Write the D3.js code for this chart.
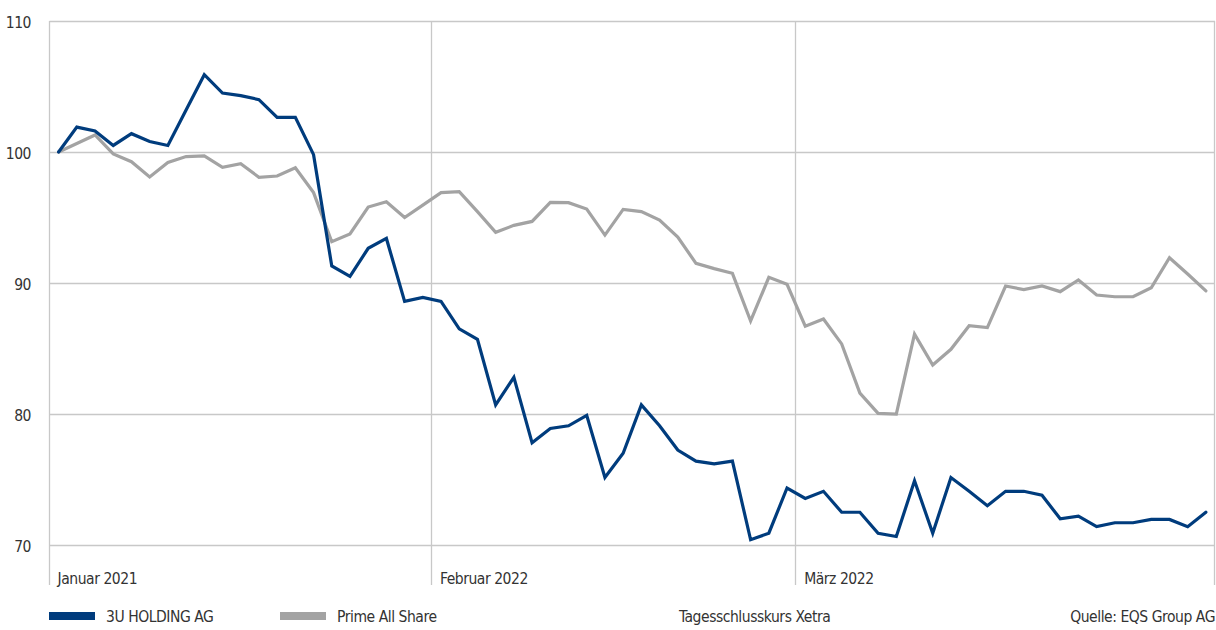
<!DOCTYPE html>
<html>
<head>
<meta charset="utf-8">
<script src="https://cdn.jsdelivr.net/npm/d3@7"></script>
<style>
  html, body { margin: 0; padding: 0; background: #fff; }
  svg text { font-family: "Liberation Sans Narrow", "DejaVu Sans Condensed", "Liberation Sans", sans-serif; fill: #333; letter-spacing: -0.45px; }
</style>
</head>
<body>
<svg id="chart" width="1216" height="630"></svg>
<script>
// Trading days (Jan–Mar 2022)
const days = [
  "03.01","04.01","05.01","06.01","07.01","10.01","11.01","12.01","13.01","14.01",
  "17.01","18.01","19.01","20.01","21.01","24.01","25.01","26.01","27.01","28.01","31.01",
  "01.02","02.02","03.02","04.02","07.02","08.02","09.02","10.02","11.02",
  "14.02","15.02","16.02","17.02","18.02","21.02","22.02","23.02","24.02","25.02","28.02",
  "01.03","02.03","03.03","04.03","07.03","08.03","09.03","10.03","11.03",
  "14.03","15.03","16.03","17.03","18.03","21.03","22.03","23.03","24.03","25.03",
  "28.03","29.03","30.03","31.03"
];

const holding = [
  100.0, 101.9, 101.6, 100.5, 101.4, 100.8, 100.5, 103.2, 105.9, 104.5,
  104.3, 104.0, 102.65, 102.65, 99.8, 91.3, 90.5, 92.65, 93.4, 88.6, 88.9,
  88.6, 86.5, 85.7, 80.7, 82.8, 77.8, 78.9, 79.1, 79.9,
  75.15, 77.0, 80.7, 79.1, 77.25, 76.4, 76.2, 76.4, 70.4, 70.9, 74.35,
  73.55, 74.1, 72.5, 72.5, 70.9, 70.65, 74.9, 70.9, 75.15,
  74.1, 73.0, 74.1, 74.1, 73.8, 72.0, 72.2, 71.4, 71.7, 71.7,
  71.95, 71.95, 71.4, 72.5
];

const primeAllShare = [
  100.0, 100.65, 101.3, 99.85, 99.26, 98.1, 99.2, 99.65, 99.7, 98.83,
  99.1, 98.07, 98.17, 98.8, 96.9, 93.15, 93.75, 95.8, 96.2, 95.0, 95.95,
  96.9, 96.97, 95.45, 93.87, 94.4, 94.7, 96.15, 96.13, 95.65,
  93.66, 95.62, 95.45, 94.8, 93.5, 91.5, 91.1, 90.74, 87.1, 90.43, 89.9,
  86.7, 87.25, 85.35, 81.6, 80.05, 80.0, 86.1, 83.74, 84.94,
  86.74, 86.6, 89.77, 89.5, 89.77, 89.34, 90.23, 89.08, 88.95, 88.95,
  89.64, 91.93, 90.69, 89.4
];

const yTicks = [70, 80, 90, 100, 110];
const monthTicks = [
  { day: "03.01", label: "Januar 2021" },
  { day: "01.02", label: "Februar 2022" },
  { day: "01.03", label: "März 2022" }
];
const seriesNames = ["3U HOLDING AG", "Prime All Share"];
const noteText = "Tagesschlusskurs Xetra";
const sourceText = "Quelle: EQS Group AG";

const colors = { holding: "#003c7d", prime: "#a3a3a3", grid: "#c8c8c8" };
const fs = 15.5;

const svg = d3.select("#chart");
const pLeft = 49.5, pRight = 1215, pTop = 21, pBottom = 545, axisBottom = 585;

const x = d3.scaleBand().domain(days).range([pLeft, pRight]).padding(0);
const y = d3.scaleLinear().domain([70, 110]).range([pBottom, pTop]);

// horizontal grid
svg.append("g").selectAll("line").data(yTicks).join("line")
  .attr("x1", pLeft).attr("x2", pRight)
  .attr("y1", d => Math.round(y(d)) + 0.5).attr("y2", d => Math.round(y(d)) + 0.5)
  .attr("stroke", colors.grid).attr("stroke-width", 1.3);

// vertical lines: month boundaries + right edge
const vx = monthTicks.map(m => x(m.day)).concat([pRight]);
svg.append("g").selectAll("line").data(vx).join("line")
  .attr("x1", d => Math.round(d) - 0.5).attr("x2", d => Math.round(d) - 0.5)
  .attr("y1", pTop).attr("y2", axisBottom)
  .attr("stroke", colors.grid).attr("stroke-width", 1.3);

// y labels
svg.append("g").selectAll("text").data(yTicks).join("text")
  .attr("x", 31).attr("y", d => y(d))
  .attr("dy", "0.42em")
  .attr("text-anchor", "end")
  .attr("font-size", fs)
  .text(d => d);

// month labels
svg.append("g").selectAll("text").data(monthTicks).join("text")
  .attr("x", d => x(d.day) + 8).attr("y", 584)
  .attr("font-size", fs)
  .text(d => d.label);

// lines
const line = d3.line().x((d, i) => x(days[i]) + x.bandwidth() / 2).y(d => y(d));

svg.append("path").datum(primeAllShare)
  .attr("d", line).attr("fill", "none")
  .attr("stroke", colors.prime).attr("stroke-width", 3.2)
  .attr("stroke-linejoin", "miter").attr("stroke-linecap", "round");

svg.append("path").datum(holding)
  .attr("d", line).attr("fill", "none")
  .attr("stroke", colors.holding).attr("stroke-width", 3.2)
  .attr("stroke-linejoin", "miter").attr("stroke-linecap", "round");

// legend
const legend = [
  { name: seriesNames[0], color: colors.holding, x: 49 },
  { name: seriesNames[1], color: colors.prime, x: 280 }
];
const lg = svg.append("g");
lg.selectAll("rect").data(legend).join("rect")
  .attr("x", d => d.x).attr("y", 612).attr("width", 46).attr("height", 8)
  .attr("fill", d => d.color);
lg.selectAll("text").data(legend).join("text")
  .attr("x", d => d.x + 57).attr("y", 622)
  .attr("font-size", fs)
  .text(d => d.name);

svg.append("text").attr("x", 679).attr("y", 622).attr("font-size", fs).text(noteText);
svg.append("text").attr("x", 1215).attr("y", 622).attr("font-size", fs)
  .attr("text-anchor", "end").text(sourceText);
</script>
</body>
</html>
